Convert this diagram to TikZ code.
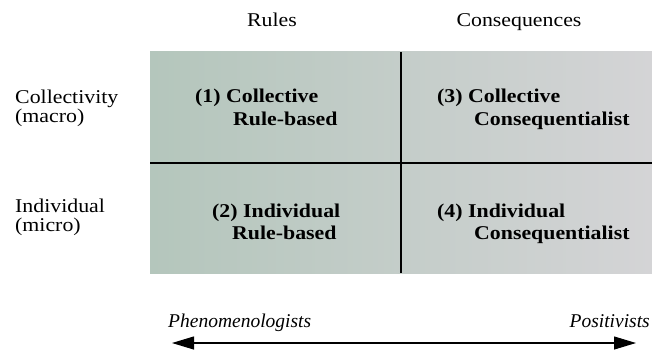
\documentclass[tikz,border=0pt]{standalone}
\usepackage{fontspec}
\setmainfont{Liberation Serif}[FakeStretch=1.12]
\newfontfamily\plainserif{Liberation Serif}
\usetikzlibrary{arrows.meta}
\definecolor{cellleft}{RGB}{180,198,188}
\definecolor{cellright}{RGB}{212,212,214}
\begin{document}
\begin{tikzpicture}[x=1pt,y=-1pt,
  lbl/.style={inner sep=0pt,font=\fontsize{19.5}{22}\selectfont},
  cell/.style={inner sep=0pt,anchor=base west,font=\fontsize{19.5}{22}\selectfont\bfseries},
  pole/.style={inner sep=0pt,anchor=base,font=\fontsize{19.5}{22}\selectfont\plainserif\itshape},
  divider/.style={line width=2pt,black},
  span/.style={line width=1.1pt,{Triangle[length=22pt,width=13pt]}-{Triangle[length=22pt,width=13pt]}}]
  \useasboundingbox (0,0) rectangle (652,351);

  % shaded matrix
  \shade[left color=cellleft,right color=cellright] (150,51) rectangle (652,273);
  \coordinate (vtop) at (401,52);
  \coordinate (vbot) at (401,273);
  \coordinate (hleft) at (150,162.5);
  \coordinate (hright) at (652,162.5);
  \draw[divider] (vtop) -- (vbot);
  \draw[divider] (hleft) -- (hright);

  % column headings
  \node[lbl,anchor=base] (rules) at (272,26) {Rules};
  \node[lbl,anchor=base] (cons) at (519,26) {Consequences};

  % row headings
  \node[lbl,anchor=base west] (coll1) at (15,103) {Collectivity};
  \node[lbl,anchor=base west] (coll2) at (15,122) {(macro)};
  \node[lbl,anchor=base west] (ind1) at (15,212) {Individual};
  \node[lbl,anchor=base west] (ind2) at (15,231) {(micro)};

  % cells
  \node[cell] (c1a) at (195,102) {(1) Collective};
  \node[cell] (c1b) at (233,125) {Rule-based};
  \node[cell] (c3a) at (437,102) {(3) Collective};
  \node[cell] (c3b) at (474,125) {Consequentialist};
  \node[cell] (c2a) at (212,217) {(2) Individual};
  \node[cell] (c2b) at (232,239) {Rule-based};
  \node[cell] (c4a) at (437,217) {(4) Individual};
  \node[cell] (c4b) at (474,239) {Consequentialist};

  % epistemological continuum
  \node[pole,anchor=base west] (phen) at (168,327) {Phenomenologists};
  \node[pole,anchor=base east] (posi) at (650,327) {Positivists};
  \coordinate (aleft) at (172,343);
  \coordinate (aright) at (636,343);
  \draw[span] (aleft) -- (aright);
\end{tikzpicture}
\end{document}
